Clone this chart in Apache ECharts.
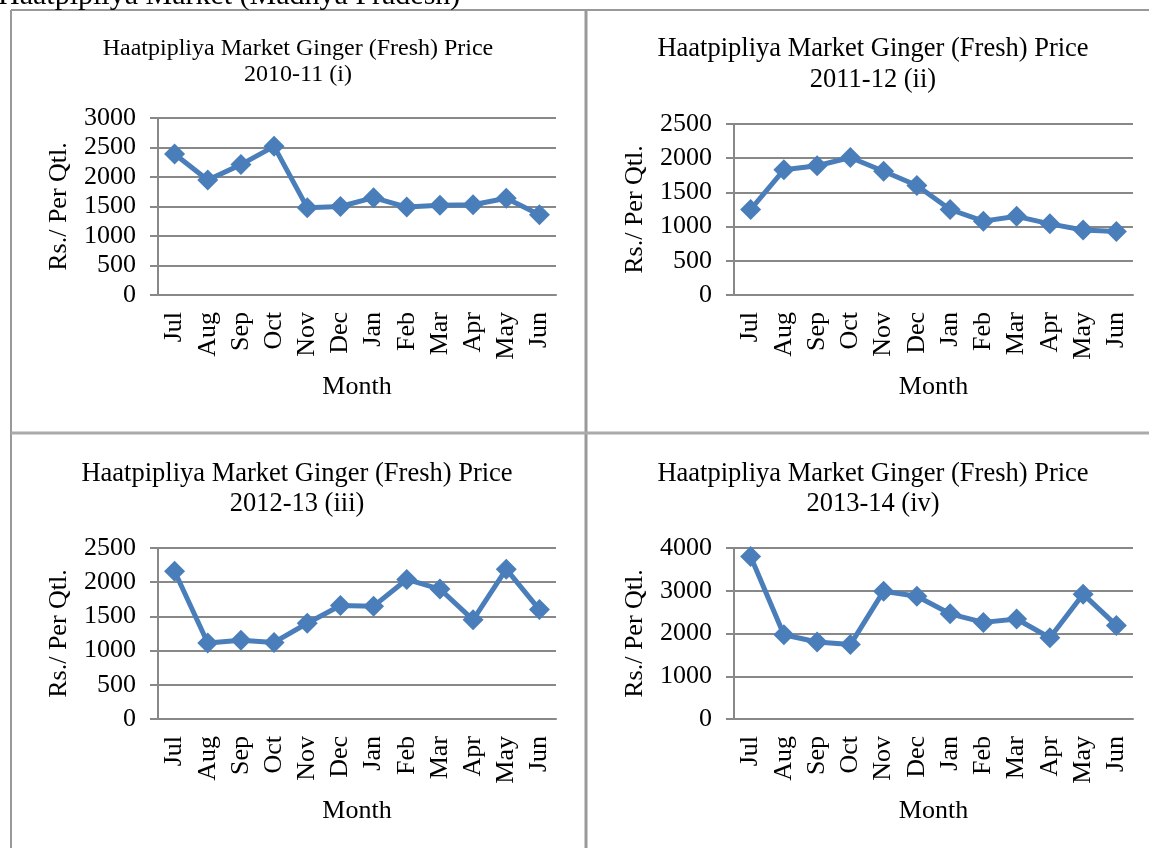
<!DOCTYPE html>
<html>
<head>
<meta charset="utf-8">
<script src="https://cdn.jsdelivr.net/npm/echarts@6/dist/echarts.min.js"></script>
<style>
 html, body { margin: 0; padding: 0; background: #fff; }
 #main { width: 1149px; height: 848px; }
</style>
</head>
<body>
<div id="main"></div>
<script>
/** 数据 **/
var months = ['Jul', 'Aug', 'Sep', 'Oct', 'Nov', 'Dec', 'Jan', 'Feb', 'Mar', 'Apr', 'May', 'Jun'];
var price2010 = [2390, 1950, 2210, 2520, 1480, 1500, 1650, 1490, 1520, 1530, 1640, 1360];
var price2011 = [1250, 1830, 1890, 2010, 1810, 1600, 1250, 1080, 1150, 1040, 950, 930];
var price2012 = [2160, 1110, 1150, 1120, 1400, 1660, 1650, 2040, 1900, 1450, 2190, 1600];
var price2013 = [3800, 1970, 1800, 1740, 2990, 2870, 2460, 2260, 2340, 1900, 2920, 2190];
var titles = [
 'Haatpipliya Market Ginger (Fresh) Price\n2010-11 (i)',
 'Haatpipliya Market Ginger (Fresh) Price\n2011-12 (ii)',
 'Haatpipliya Market Ginger (Fresh) Price\n2012-13 (iii)',
 'Haatpipliya Market Ginger (Fresh) Price\n2013-14 (iv)'
];
var yMax = [3000, 2500, 2500, 4000];
var yStep = [500, 500, 500, 1000];

var font = '"Liberation Serif", "Times New Roman", serif';
var gray = '#888888';
var blue = '#4a7ebb';
var fs = 26;

var chart = echarts.init(document.getElementById('main'));

// 四个图的位置
var boxes = [
 {left: 158, top: 118, width: 398, height: 177, cx: 298, ty: 36, ts: 24, lh: 26},
 {left: 734, top: 124, width: 399, height: 171, cx: 873, ty: 34, ts: 26.5, lh: 31},
 {left: 158, top: 548, width: 398, height: 171, cx: 297, ty: 459, ts: 26.5, lh: 30},
 {left: 734, top: 548, width: 399, height: 171, cx: 873, ty: 459, ts: 26.5, lh: 30}
];
var allData = [price2010, price2011, price2012, price2013];

var grid = [], xAxis = [], yAxis = [], series = [], title = [];
boxes.forEach(function(b, i) {
 grid.push({left: b.left, top: b.top, width: b.width, height: b.height, containLabel: false});
 title.push({
  text: titles[i],
  left: b.cx,
  top: b.ty,
  padding: 0,
  textAlign: 'center',
  textStyle: {fontFamily: font, fontSize: b.ts, fontWeight: 'normal', color: '#000', lineHeight: b.lh}
 });
 xAxis.push({
  type: 'category',
  gridIndex: i,
  data: months,
  boundaryGap: true,
  name: 'Month',
  nameLocation: 'middle',
  nameGap: 79,
  nameTextStyle: {fontFamily: font, fontSize: fs, color: '#000'},
  axisLine: {lineStyle: {color: gray, width: 2}},
  axisTick: {show: false},
  axisLabel: {rotate: 90, margin: 17, interval: 0, fontFamily: font, fontSize: fs, color: '#000'}
 });
 yAxis.push({
  type: 'value',
  gridIndex: i,
  min: 0,
  max: yMax[i],
  interval: yStep[i],
  name: 'Rs./ Per Qtl.',
  nameLocation: 'middle',
  nameGap: 86,
  nameTextStyle: {fontFamily: font, fontSize: fs, color: '#000'},
  axisLine: {show: true, lineStyle: {color: gray, width: 2}},
  axisTick: {show: true, length: 8, lineStyle: {color: gray, width: 2}},
  splitLine: {lineStyle: {color: gray, width: 2}},
  axisLabel: {
   margin: 22, fontFamily: font, fontSize: fs, color: '#000',
   formatter: function(v) { return String(v); }
  }
 });
 series.push({
  type: 'line',
  xAxisIndex: i,
  yAxisIndex: i,
  data: allData[i],
  symbol: 'diamond',
  symbolSize: 21,
  lineStyle: {color: blue, width: 5},
  itemStyle: {color: blue},
  animation: false
 });
});

var line = {stroke: '#999', lineWidth: 2};
var option = {
 backgroundColor: '#fff',
 animation: false,
 title: title,
 grid: grid,
 xAxis: xAxis,
 yAxis: yAxis,
 series: series,
 graphic: [
  // 表格边框
  {type: 'line', shape: {x1: 11, y1: 10, x2: 1149, y2: 10}, style: line, z: 0},
  {type: 'line', shape: {x1: 11, y1: 10, x2: 11, y2: 848}, style: line, z: 0},
  {type: 'line', shape: {x1: 586, y1: 10, x2: 586, y2: 848}, style: {stroke: '#999', lineWidth: 3}, z: 0},
  {type: 'line', shape: {x1: 11, y1: 433, x2: 1149, y2: 433}, style: {stroke: '#aaa', lineWidth: 3}, z: 0},
  {type: 'text', left: -2, top: -19, style: {text: 'Haatpipliya Market (Madhya Pradesh)', font: '30px ' + font, fill: '#000'}}
 ]
};
chart.setOption(option);
</script>
</body>
</html>
